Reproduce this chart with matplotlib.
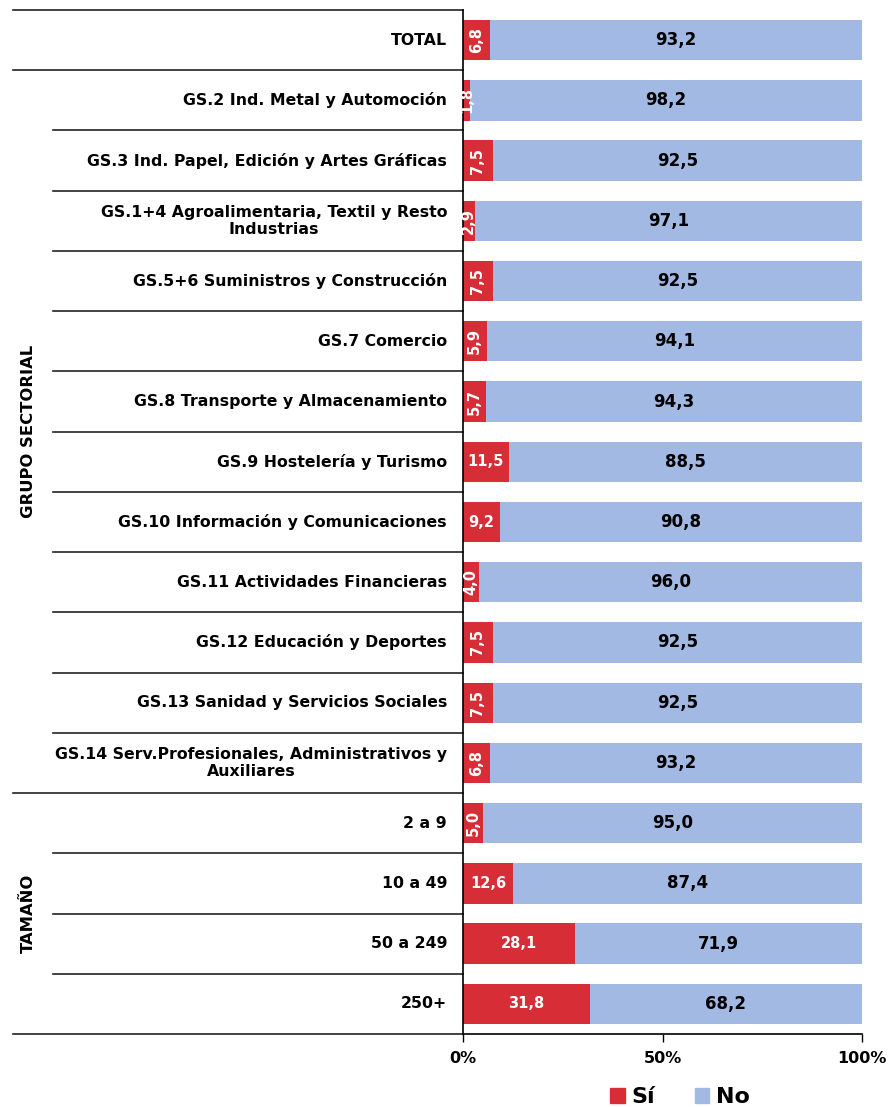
import matplotlib.pyplot as plt
import matplotlib.patches as mpatches

plt.rcParams["font.family"] = ["DejaVu Sans"]
plt.rcParams["font.weight"] = "bold"

categories = [
    "TOTAL",
    "GS.2 Ind. Metal y Automoción",
    "GS.3 Ind. Papel, Edición y Artes Gráficas",
    "GS.1+4 Agroalimentaria, Textil y Resto\nIndustrias",
    "GS.5+6 Suministros y Construcción",
    "GS.7 Comercio",
    "GS.8 Transporte y Almacenamiento",
    "GS.9 Hostelería y Turismo",
    "GS.10 Información y Comunicaciones",
    "GS.11 Actividades Financieras",
    "GS.12 Educación y Deportes",
    "GS.13 Sanidad y Servicios Sociales",
    "GS.14 Serv.Profesionales, Administrativos y\nAuxiliares",
    "2 a 9",
    "10 a 49",
    "50 a 249",
    "250+",
]
si = [6.8, 1.8, 7.5, 2.9, 7.5, 5.9, 5.7, 11.5, 9.2, 4.0, 7.5, 7.5, 6.8, 5.0, 12.6, 28.1, 31.8]
no = [93.2, 98.2, 92.5, 97.1, 92.5, 94.1, 94.3, 88.5, 90.8, 96.0, 92.5, 92.5, 93.2, 95.0, 87.4, 71.9, 68.2]

groups = ["GRUPO SECTORIAL", "TAMAÑO"]
group_rows = [(1, 12), (13, 16)]

RED = "#D62D36"
BLUE = "#A2B9E3"


def fmt(v):
    return f"{v:.1f}".replace(".", ",")


fig = plt.figure(figsize=(8.88, 11.07), dpi=100)
ax = fig.add_axes([463 / 888, 1 - 1034 / 1107, 399 / 888, 1024 / 1107])

y = list(range(len(categories)))
ax.barh(y, si, height=0.67, color=RED, label="Sí")
ax.barh(y, no, left=si, height=0.67, color=BLUE, label="No")

for i in y:
    rot = 0 if si[i] >= 9 else 90
    ax.text(si[i] / 2, i, fmt(si[i]), ha="center", va="center",
            color="white", fontsize=10.5, fontweight="bold", rotation=rot)
    ax.text(si[i] + no[i] / 2, i, fmt(no[i]), ha="center", va="center",
            color="black", fontsize=12, fontweight="bold")

ax.set_xlim(0, 100)
ax.set_ylim(len(categories) - 0.5, -0.5)
ax.set_xticks([0, 50, 100])
ax.set_xticklabels(["0%", "50%", "100%"], fontsize=11.5, fontweight="bold")
ax.tick_params(axis="x", length=6, width=1, pad=6)
ax.set_yticks([])
for s in ["top", "right"]:
    ax.spines[s].set_visible(False)
ax.spines["left"].set_linewidth(1.2)
ax.spines["bottom"].set_linewidth(1.2)

# row labels and table lines
tr = ax.get_yaxis_transform()
for i, lab in enumerate(categories):
    ax.text(-0.04, i, lab, transform=tr, ha="right", va="center",
            multialignment="center", fontsize=11.3, fontweight="bold")

long_lines = [-0.5, 0.5, 12.5, 16.5]
for b in [k - 0.5 for k in range(len(categories) + 1)]:
    x0 = -1.128 if b in long_lines else -1.028
    ax.plot([x0, 0], [b, b], transform=tr, color="#222222", lw=1.2, clip_on=False)

for name, (a, b) in zip(groups, group_rows):
    ax.text(-1.09, (a + b) / 2, name, transform=tr, rotation=90, ha="center",
            va="center", fontsize=11.8, fontweight="bold")

handles = [mpatches.Patch(color=RED, label="Sí"), mpatches.Patch(color=BLUE, label="No")]
fig.legend(handles=handles, loc="center", bbox_to_anchor=(680 / 888, 1 - 1097 / 1107),
           ncol=2, frameon=False, prop={"size": 16, "weight": "bold"},
           handlelength=0.65, handleheight=0.65, handletextpad=0.3, columnspacing=1.8)

fig.savefig("out.png", dpi=100)
